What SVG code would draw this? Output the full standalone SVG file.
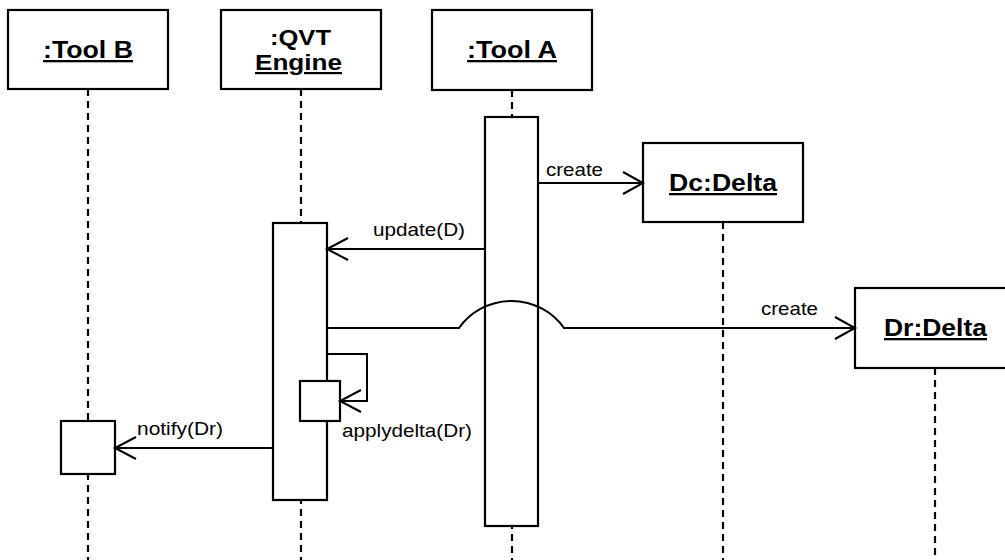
<svg xmlns="http://www.w3.org/2000/svg" width="1005" height="560" viewBox="0 0 1005 560">
  <style>
    .box { fill: #fff; stroke: #000; stroke-width: 2.2; }
    .life { stroke: #000; stroke-width: 2.2; stroke-dasharray: 7 5; fill: none; }
    .msg { stroke: #000; stroke-width: 2; fill: none; }
    .head { stroke: #000; stroke-width: 2; fill: none; }
    .title { font-family: "Liberation Sans", Arial, sans-serif; font-weight: bold; font-size: 23px; text-decoration: underline; fill: #000; }
    .plain { font-family: "Liberation Sans", Arial, sans-serif; font-weight: bold; font-size: 22px; fill: #000; }
    .qvt { font-size: 22px; }
    .lbl { font-family: "Liberation Sans", Arial, sans-serif; font-size: 19px; fill: #000; }
  </style>
  <rect width="1005" height="560" fill="#fff"/>

  <g id="lifelines">
    <line class="life" x1="88" y1="89" x2="88" y2="560"/>
    <line class="life" x1="301" y1="89" x2="301" y2="560"/>
    <line class="life" x1="512" y1="90" x2="512" y2="560"/>
    <line class="life" x1="723" y1="222" x2="723" y2="560"/>
    <line class="life" x1="935" y1="368" x2="935" y2="560"/>
  </g>

  <g id="toolB">
    <rect class="box" x="8" y="10" width="160" height="79"/>
    <text class="title" x="43" y="58" textLength="90" lengthAdjust="spacingAndGlyphs">:Tool B</text>
    <rect class="box" x="61" y="421" width="54" height="53"/>
  </g>

  <g id="qvtEngine">
    <rect class="box" x="221" y="10" width="160" height="79"/>
    <text class="plain" x="270" y="45" textLength="61" lengthAdjust="spacingAndGlyphs">:QVT</text>
    <text class="title qvt" x="255" y="70" textLength="87" lengthAdjust="spacingAndGlyphs">Engine</text>
    <rect class="box" x="273" y="223" width="54" height="277"/>
    <rect class="box" x="300" y="381" width="40" height="40"/>
  </g>

  <g id="toolA">
    <rect class="box" x="432" y="10" width="160" height="80"/>
    <text class="title" x="467" y="58" textLength="90" lengthAdjust="spacingAndGlyphs">:Tool A</text>
    <rect class="box" x="485" y="117" width="53" height="409"/>
  </g>

  <g id="dcDelta">
    <rect class="box" x="643" y="143" width="160" height="79"/>
    <text class="title" x="669" y="191" textLength="108" lengthAdjust="spacingAndGlyphs">Dc:Delta</text>
  </g>

  <g id="drDelta">
    <rect class="box" x="855" y="288" width="160" height="80"/>
    <text class="title" x="884" y="336" textLength="103" lengthAdjust="spacingAndGlyphs">Dr:Delta</text>
  </g>

  <g id="connectors">
    <line class="msg" x1="538" y1="183" x2="642" y2="183"/>
    <polyline class="head" points="623,172 643,183 623,194"/>
    <text class="lbl" x="546" y="176" textLength="57" lengthAdjust="spacingAndGlyphs">create</text>

    <line class="msg" x1="485" y1="249" x2="328" y2="249"/>
    <polyline class="head" points="348,238 327,249 348,260"/>
    <text class="lbl" x="373" y="236" textLength="92" lengthAdjust="spacingAndGlyphs">update(D)</text>

    <path class="msg" d="M327,328 L459,328 A64.5,64.5 0 0 1 564,328 L854,328"/>
    <polyline class="head" points="835,317 855,328 835,339"/>
    <text class="lbl" x="761" y="315" textLength="57" lengthAdjust="spacingAndGlyphs">create</text>

    <polyline class="msg" points="327,354 367,354 367,401 341,401"/>
    <polyline class="head" points="361,390 340,401 361,412"/>
    <text class="lbl" x="342" y="437" textLength="130" lengthAdjust="spacingAndGlyphs">applydelta(Dr)</text>

    <line class="msg" x1="273" y1="448" x2="116" y2="448"/>
    <polyline class="head" points="136,437 115,448 136,459"/>
    <text class="lbl" x="137" y="435" textLength="86" lengthAdjust="spacingAndGlyphs">notify(Dr)</text>
  </g>
</svg>
